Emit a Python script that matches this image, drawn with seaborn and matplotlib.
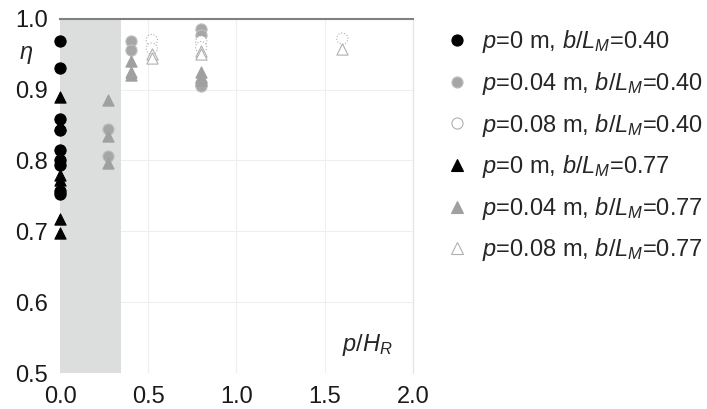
import matplotlib
matplotlib.use("Agg")
import matplotlib.pyplot as plt
import seaborn as sns
import pandas as pd
from matplotlib.lines import Line2D

sns.set_style("white")
plt.rcParams['font.family'] = ['Liberation Sans', 'DejaVu Sans']
plt.rcParams['mathtext.fontset'] = 'custom'
plt.rcParams['mathtext.rm'] = 'Liberation Sans'
plt.rcParams['mathtext.it'] = 'Liberation Sans:italic'

# ---- data (p/H_R, eta) ----
x_p0_b040 = [0, 0, 0, 0, 0, 0, 0, 0, 0]
y_p0_b040 = [0.969, 0.931, 0.858, 0.843, 0.815, 0.801, 0.793, 0.757, 0.752]

x_p004_b040 = [0.27, 0.27, 0.40, 0.40, 0.80, 0.80, 0.80, 0.80]
y_p004_b040 = [0.845, 0.807, 0.968, 0.956, 0.985, 0.977, 0.910, 0.905]

x_p008_b040 = [0.52, 0.52, 0.80, 0.80, 1.60]
y_p008_b040 = [0.970, 0.958, 0.968, 0.960, 0.972]

x_p0_b077 = [0, 0, 0, 0, 0, 0]
y_p0_b077 = [0.889, 0.850, 0.780, 0.772, 0.718, 0.697]

x_p004_b077 = [0.27, 0.27, 0.27, 0.40, 0.40, 0.40, 0.80, 0.80, 0.80]
y_p004_b077 = [0.885, 0.835, 0.797, 0.940, 0.925, 0.920, 0.925, 0.918, 0.913]

x_p008_b077 = [0.52, 0.52, 0.80, 0.80, 1.60]
y_p008_b077 = [0.950, 0.944, 0.955, 0.950, 0.957]

x_ticks = [0.0, 0.5, 1.0, 1.5, 2.0]
y_ticks = [0.5, 0.6, 0.7, 0.8, 0.9, 1.0]

labels = [
    r"$\it{p}$=0 m, $\it{b}$/$\it{L}_{\it{M}}$=0.40",
    r"$\it{p}$=0.04 m, $\it{b}$/$\it{L}_{\it{M}}$=0.40",
    r"$\it{p}$=0.08 m, $\it{b}$/$\it{L}_{\it{M}}$=0.40",
    r"$\it{p}$=0 m, $\it{b}$/$\it{L}_{\it{M}}$=0.77",
    r"$\it{p}$=0.04 m, $\it{b}$/$\it{L}_{\it{M}}$=0.77",
    r"$\it{p}$=0.08 m, $\it{b}$/$\it{L}_{\it{M}}$=0.77",
]

series = [
    (x_p0_b040, y_p0_b040, 'o', 'black', 'black', '-'),
    (x_p004_b040, y_p004_b040, 'o', '#a6a6a6', '#c0c0c0', '-'),
    (x_p008_b040, y_p008_b040, 'o', 'white', '#b0b0b0', ':'),
    (x_p0_b077, y_p0_b077, '^', 'black', 'black', '-'),
    (x_p004_b077, y_p004_b077, '^', '#a0a0a0', '#a0a0a0', '-'),
    (x_p008_b077, y_p008_b077, '^', 'white', '#b0b0b0', '-'),
]

fig = plt.figure(figsize=(7.07, 4.09), dpi=100)
ax = fig.add_axes([0.085, 0.088, 0.499, 0.866])

ax.set_xlim(0, 2.0)
ax.set_ylim(0.5, 1.0)
ax.set_xticks(x_ticks)
ax.set_yticks(y_ticks)
ax.set_xticklabels([f"{v:.1f}" for v in x_ticks])
ax.set_yticklabels([f"{v:.1f}" for v in y_ticks])
ax.grid(True, color='#efefef', linewidth=0.8)
ax.set_axisbelow(True)
ax.axvspan(0, 0.345, color='#dcdddd', zorder=1, lw=0)

for sp in ['left', 'bottom']:
    ax.spines[sp].set_visible(False)
ax.spines['top'].set_color('#808080')
ax.spines['top'].set_linewidth(1.5)
ax.spines['right'].set_color('#e6e6e6')
ax.spines['right'].set_linewidth(1.0)

handles = []
for (xs, ys, m, fc, ec, ls), lab in zip(series, labels):
    df = pd.DataFrame({'x': xs, 'y': ys})
    sns.scatterplot(data=df, x='x', y='y', ax=ax, marker=m, s=65,
                    color=fc, edgecolor=ec, linewidth=0.8, zorder=3,
                    clip_on=False, legend=False)
    if ls == ':':
        ax.collections[-1].set_linestyle(':')
    handles.append(Line2D([], [], marker=m, linestyle='none', markersize=8,
                          markerfacecolor=fc, markeredgecolor=ec,
                          markeredgewidth=0.8, label=lab))

ax.set_xlabel('')
ax.set_ylabel('')
ax.tick_params(axis='both', labelsize=17, length=0, pad=9, colors='#1a1a1a')

fig.text(0.037, 0.866, r"$\it{\eta}$", fontsize=17, ha='center', va='center')
ax.text(1.74, 0.54, r"$\it{p}$/$\it{H}_{\it{R}}$", fontsize=17,
        ha='center', va='center')

leg = ax.legend(handles=handles, loc='upper left', bbox_to_anchor=(1.065, 1.0),
                frameon=False, fontsize=17, handletextpad=0.55,
                labelspacing=0.62, handlelength=1.0, borderaxespad=0)

fig.savefig('out.png', dpi=100)
